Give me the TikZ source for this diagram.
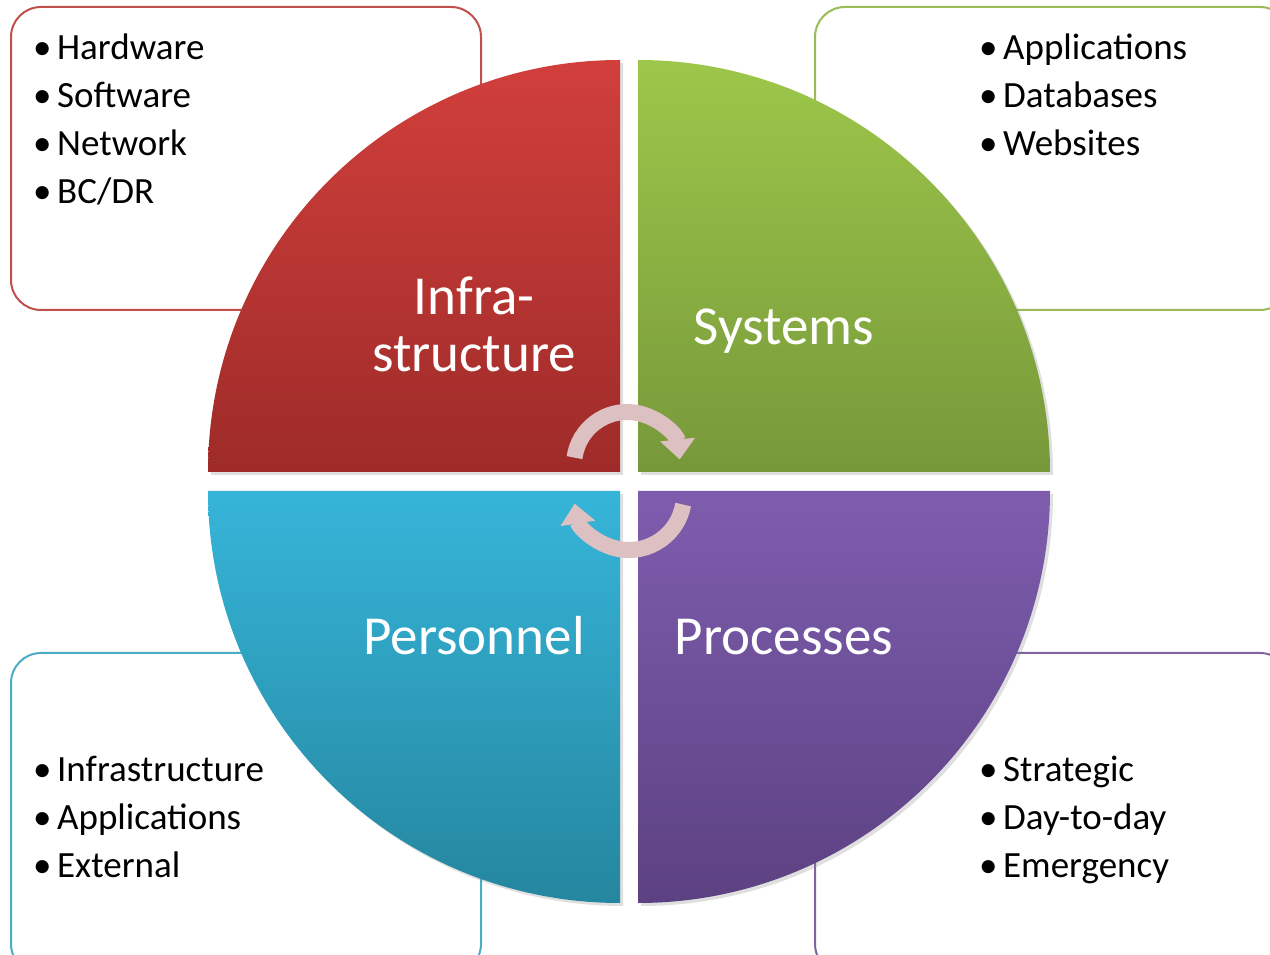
\documentclass[tikz,border=0pt]{standalone}
\usepackage{fontspec}
\setmainfont{Carlito}
\usepackage{xcolor}
\usepackage{tikz}
\usetikzlibrary{arrows.meta, shadows}

% box outlines
\definecolor{infraline}{HTML}{C0504D}
\definecolor{sysline}{HTML}{9BBB59}
\definecolor{persline}{HTML}{4BACC6}
\definecolor{procline}{HTML}{8064A2}
% quarter shading, top and bottom
\definecolor{infratop}{HTML}{D13F3B}
\definecolor{infrabot}{HTML}{9E2B29}
\definecolor{systop}{HTML}{9DC74A}
\definecolor{sysbot}{HTML}{77983A}
\definecolor{perstop}{HTML}{36B5D9}
\definecolor{persbot}{HTML}{25869F}
\definecolor{proctop}{HTML}{7E5DAE}
\definecolor{procbot}{HTML}{5C4182}
\definecolor{arrowpink}{HTML}{DDC0C2}

\begin{document}
\begin{tikzpicture}[x=1pt, y=1pt,
    listbox/.style={rounded corners=30pt, line width=2pt, fill=white},
    item/.style={anchor=base west, inner sep=0pt, font=\fontsize{37}{44}\selectfont},
    quarter/.style={drop shadow={opacity=0.25, shadow xshift=3pt, shadow yshift=-3pt}},
    title/.style={anchor=base, inner sep=0pt, text=white, font=\fontsize{55}{58}\selectfont},
    turn/.style={line width=16pt, draw=arrowpink, -{Triangle[width=34pt, length=20pt]}}]
		\useasboundingbox (0,0) rectangle (1270,954);
		\clip (0,0) rectangle (1270,954);
		\fill[white] (0,0) rectangle (1270,954);

		% Boxes behind the circle
		\draw[listbox, draw=infraline] (11,644) rectangle (481,947);
		\draw[listbox, draw=sysline] (815,644) rectangle (1290,947);
		\draw[listbox, draw=persline] (11,-20) rectangle (481,301);
		\draw[listbox, draw=procline] (815,-20) rectangle (1290,301);

		% Four quarters
		\path[quarter, top color=infratop, bottom color=infrabot]
			(620,482) -- (208,482) arc[start angle=180, end angle=90, radius=412] -- cycle;
		\path[quarter, top color=systop, bottom color=sysbot]
			(638,482) -- (638,894) arc[start angle=90, end angle=0, radius=412] -- cycle;
		\path[quarter, top color=perstop, bottom color=persbot]
			(620,463) -- (208,463) arc[start angle=180, end angle=270, radius=412] -- cycle;
		\path[quarter, top color=proctop, bottom color=procbot]
			(638,463) -- (1050,463) arc[start angle=0, end angle=-90, radius=412] -- cycle;

		% Titles
		\node[title] (infra) at (474,639) {Infra-};
		\node[title] (infrab) at (474,582) {structure};
		\node[title] (sys) at (784,609) {Systems};
		\node[title] (pers) at (474,299) {Personnel};
		\node[title] (proc) at (784,299) {Processes};

		% Turning arrows
		\coordinate (topc) at (627,489);
		\coordinate (botc) at (629,459);
		\draw[turn] ([shift={(172:53)}]topc) arc[start angle=172, end angle=6, radius=53];
		\draw[turn] ([shift={(-10:55)}]botc) arc[start angle=-10, end angle=-171, radius=55];

		% Item lists
		\foreach \t [count=\i] in {Hardware, Software, Network, BC/DR}
			\node[item] (infra-\i) at (33,942-48*\i) {\makebox[24pt][l]{\textbullet}\t};
		\foreach \t [count=\i] in {Applications, Databases, Websites}
			\node[item] (sys-\i) at (979,942-48*\i) {\makebox[24pt][l]{\textbullet}\t};
		\foreach \t [count=\i] in {Infrastructure, Applications, External}
			\node[item] (pers-\i) at (33,220-48*\i) {\makebox[24pt][l]{\textbullet}\t};
		\foreach \t [count=\i] in {Strategic, Day-to-day, Emergency}
			\node[item] (proc-\i) at (979,220-48*\i) {\makebox[24pt][l]{\textbullet}\t};
	\end{tikzpicture}
\end{document}
